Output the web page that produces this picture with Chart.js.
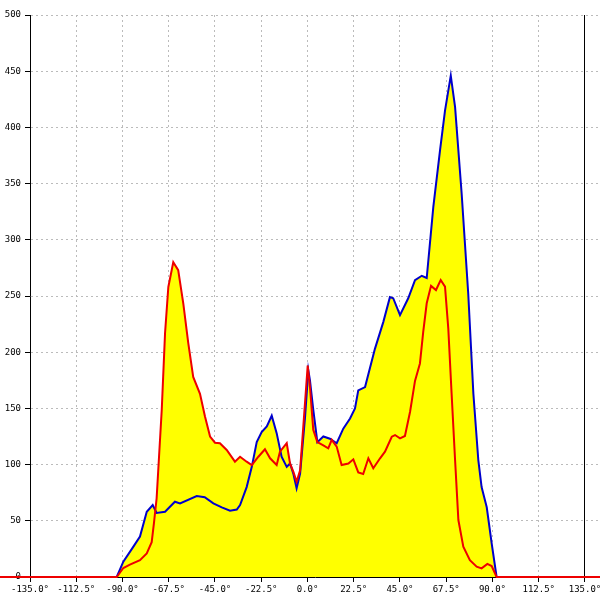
<!DOCTYPE html>
<html>
<head>
<meta charset="utf-8">
<script src="https://cdn.jsdelivr.net/npm/chart.js@4.4.1/dist/chart.umd.min.js"></script>
<style>
  html, body { margin: 0; padding: 0; background: #fff; }
  #wrap { width: 600px; height: 600px; }
</style>
</head>
<body>
<div id="wrap"><canvas id="chart"></canvas></div>
<script>
// angle (deg) / count
const blueAngle = [-150, -92.8, -89.6, -84.7, -81.5, -78.2, -75.3, -73.4, -69.3, -64.5, -62, -53.9, -50, -45.8, -41.7, -37.7, -34.4, -32.8,
  -29.6, -27.1, -24.7, -22.3, -19.8, -17.4, -15, -12.6, -10.1, -8.5, -6.9, -5.3, -3.6, -1.2, 0.4, 1.2, 2.8, 4.8, 7.7, 10.9, 14.2,
  17.4, 20.7, 23.1, 24.7, 28, 32.8, 36.9, 40.1, 41.7, 45, 49, 52.3, 55.6, 58, 61.2, 64.5, 66.9, 69.7, 71.8, 75, 78.2, 80.7, 83.1,
  84.7, 87.2, 89.6, 92, 150];
const blueValue = [0, 0, 13.6, 27, 36, 58, 64, 57, 58, 67, 65.5, 72, 71, 65.5, 62, 59, 60, 64,
  80, 98, 120, 129, 134, 143.5, 128, 107, 98, 101, 92, 79, 92, 142, 184, 175, 149, 120, 125, 123, 119,
  132, 141, 150, 166, 169, 203, 227, 249, 248, 233, 248, 264, 268, 266, 329, 380, 415, 446, 418, 341, 252, 163, 104,
  80, 62, 30, 0, 0];

const redAngle = [-150, -92.8, -89.6, -86.4, -81.5, -78.2, -75.8, -74.7, -73.4, -70.9, -69.3, -67.7, -65.3, -62.9, -60.4, -58, -55.6,
  -52.3, -49.9, -47.4, -45, -42.6, -39.3, -35.3, -32.8, -29.6, -27.1, -23.9, -20.7, -18.2, -15, -13.4, -10.1, -8.5, -6.9, -5.3,
  -3.6, -1.7, 0.1, 1.2, 2.8, 4.8, 7.7, 10.1, 11.8, 14.2, 16.6, 19.9, 22.3, 24.7, 27.1, 29.6, 32, 35.3, 37.7, 41, 42.6, 45, 47.4,
  49.9, 52.3, 54.7, 56.3, 58, 60.1, 62.5, 64.8, 66.9, 68.5, 70.1, 71.8, 73.4, 75.8, 79, 82.3, 84.7, 87.5, 89.6, 92, 150];
const redValue = [0, 0, 8, 11, 15, 21, 31, 48, 70, 149, 217, 258, 280, 273, 243, 208, 178,
  163, 143, 125, 119.5, 119, 113, 102.6, 107, 102.6, 99.6, 107, 113.6, 105.6, 99.6, 111.5, 119, 101, 93.7, 84.8,
  95, 142.6, 188, 169, 131, 120, 117, 114.5, 122, 116, 99.6, 101, 104.7, 93, 91.6, 105.6, 96.7, 105.6, 111.5, 124.8, 126.3, 123.4, 125.5,
  147, 174.5, 190, 218, 243.5, 259, 255.3, 264.2, 258.3, 221, 163.4, 104, 50.7, 27, 15, 9.2, 7.7, 11.6, 9.8, 0, 0];

const xTicks = [-135, -112.5, -90, -67.5, -45, -22.5, 0, 22.5, 45, 67.5, 90, 112.5, 135];

const pts = (xs, ys) => xs.map((x, i) => ({ x: x, y: ys[i] }));
const tickFont = { family: '"DejaVu Sans Mono", monospace', size: 9 };

new Chart(document.getElementById('chart'), {
  type: 'line',
  data: {
    datasets: [{
      label: 'red',
      data: pts(redAngle, redValue),
      borderColor: '#ee0000',
      backgroundColor: '#ffff00',
      borderWidth: 2,
      fill: 'origin',
      clip: { left: 31, top: 5, right: 0, bottom: 5 }
    }, {
      label: 'blue',
      data: pts(blueAngle, blueValue),
      borderColor: '#0000cc',
      backgroundColor: '#ffff00',
      borderWidth: 2,
      fill: 'origin'
    }]
  },
  options: {
    responsive: true,
    maintainAspectRatio: false,
    animation: false,
    layout: { padding: { top: 15, left: 0, right: 0, bottom: 0 } },
    elements: { point: { radius: 0 }, line: { tension: 0 } },
    plugins: {
      legend: { display: false },
      tooltip: { enabled: false },
      filler: { drawTime: 'beforeDatasetsDraw' }
    },
    scales: {
      x: {
        type: 'linear',
        min: -135,
        max: 142.3,
        afterBuildTicks: (s) => { s.ticks = xTicks.map(v => ({ value: v })); },
        afterFit: (s) => { s.height = 23; s.paddingLeft = 0; s.paddingRight = 0; },
        grid: {
          color: (c) => (c.tick && c.tick.value === 135) ? '#000' : '#bbbbbb',
          tickColor: '#000',
          tickLength: 5,
          tickBorderDash: []
        },
        border: {
          color: '#000',
          dash: (c) => (c.tick && c.tick.value === 135) ? [] : [2, 3]
        },
        ticks: {
          color: '#000',
          font: tickFont,
          padding: 2,
          maxRotation: 0,
          autoSkip: false,
          callback: (v) => v.toFixed(1) + '°'
        }
      },
      y: {
        min: 0,
        max: 500,
        afterFit: (s) => { s.width = 30; s.paddingTop = 0; s.paddingBottom = 0; },
        grid: {
          color: '#bbbbbb',
          tickColor: '#000',
          tickLength: 5,
          tickBorderDash: []
        },
        border: { color: '#000', dash: [2, 3] },
        ticks: {
          stepSize: 50,
          color: '#000',
          font: tickFont,
          padding: 4
        }
      }
    }
  }
});
</script>
</body>
</html>
